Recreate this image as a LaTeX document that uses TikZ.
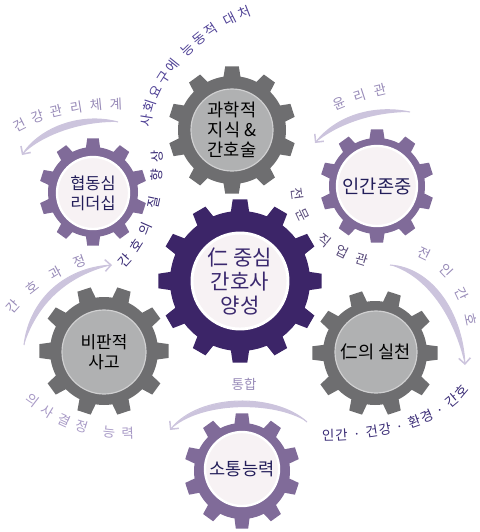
\documentclass[tikz,border=0pt]{standalone}
\usepackage{fontspec}
\setmainfont{Noto Sans CJK KR}
\usepackage{tikz}
\usetikzlibrary{arrows.meta,decorations.text}

\definecolor{gearGray}{RGB}{110,110,112}
\definecolor{hubGray}{RGB}{176,177,178}
\definecolor{gearPurple}{RGB}{128,107,153}
\definecolor{hubLight}{RGB}{247,242,244}
\definecolor{gearDark}{RGB}{60,37,104}
\definecolor{inkPurple}{RGB}{58,40,110}
\definecolor{inkNavy}{RGB}{35,30,90}
\definecolor{arrowLav}{RGB}{204,196,221}
\definecolor{labelLav}{RGB}{152,139,184}
\definecolor{labelPale}{RGB}{168,154,198}
\definecolor{labelBlue}{RGB}{80,66,150}
\definecolor{labelDeep}{RGB}{58,44,118}
\definecolor{labelGrey}{RGB}{88,74,122}

\newcommand{\arcfont}{\fontsize{11.5}{13}\selectfont}

\begin{document}
\begin{tikzpicture}[x=0.03cm, y=0.03cm,
pics/gearwheel/.style n args={4}{code={
  \pgfmathsetmacro{\gstep}{360/#1}
  \path[pic actions] ({#4-0.25*\gstep}:#2)
    \foreach \k [evaluate=\k as \c using #4+(\k-1)*\gstep] in {1,...,#1}{
      -- ({\c-0.25*\gstep}:#2) -- ({\c-0.17*\gstep}:#3)
      -- ({\c+0.17*\gstep}:#3) -- ({\c+0.25*\gstep}:#2)
      arc[start angle={\c+0.25*\gstep}, end angle={\c+0.75*\gstep}, radius=#2]
    } -- cycle;
}},
grayhub/.style={circle, fill=hubGray, draw=hubGray!60!white, line width=1pt, inner sep=-6pt, align=center, text=black},
purplehub/.style={circle, fill=hubLight, draw=white, line width=2pt, inner sep=-6pt, align=center, text=inkNavy},
corehub/.style={circle, fill=hubLight, draw=white, line width=2.5pt, inner sep=-6pt, align=center, text=inkPurple},
arrowbody/.style={fill=arrowLav},
arrowline/.style={draw=arrowLav, line width=0.9pt, -{Straight Barb[length=5pt, width=10pt, line width=1.3pt]}},
arclabel/.style 2 args={decorate, decoration={text along path, text align={fit to path}, raise=-4pt, text color=#1, text={|\arcfont|#2}}},
]
\useasboundingbox (0,0) rectangle (480,-532);

%Gears
\pic[fill=gearDark]   at (240,-281) {gearwheel={12}{70}{82}{0}};
\pic[fill=gearGray]   at (232,-130) {gearwheel={10}{54}{64}{90}};
\pic[fill=gearPurple] at (377,-186) {gearwheel={10}{48}{57}{90}};
\pic[fill=gearPurple] at (93,-192)  {gearwheel={10}{45}{54}{90}};
\pic[fill=gearGray]   at (104,-351) {gearwheel={10}{54}{65}{72}};
\pic[fill=gearGray]   at (375,-353) {gearwheel={10}{52}{63}{72}};
\pic[fill=gearPurple] at (242,-471) {gearwheel={10}{48}{58}{90}};

%Hubs
\node[corehub, minimum size=2.88cm, font=\fontsize{18}{20.5}\selectfont] (core) at (240,-281) {仁 중심\\간호사\\양성};
\node[grayhub, minimum size=2.46cm, font=\fontsize{15}{17}\selectfont] (science) at (232,-130) {과학적\\지식 \&\\간호술};
\node[purplehub, minimum size=2.4cm, font=\fontsize{16}{18}\selectfont] (respect) at (377,-186) {인간존중};
\node[purplehub, minimum size=2.16cm, font=\fontsize{14}{17}\selectfont] (teamwork) at (93,-193) {협동심\\리더십};
\node[grayhub, minimum size=2.52cm, font=\fontsize{14.5}{17}\selectfont] (critical) at (104,-352) {비판적\\사고};
\node[grayhub, minimum size=2.46cm, font=\fontsize{15}{17}\selectfont] (practice) at (376,-352) {仁의 실천};
\node[purplehub, minimum size=2.22cm, font=\fontsize{15}{17}\selectfont] (comm) at (242,-469) {소통능력};

%Arrows
\coordinate (healthA) at (118,-122);
\coordinate (healthB) at (22,-155);
\fill[arrowbody] (healthA) .. controls (80,-112) and (40,-128) .. (healthB) .. controls (40,-136) and (80,-121) .. (healthA);
\draw[arrowline] (healthA) .. controls (80,-112) and (40,-128) .. (healthB);

\coordinate (ethicsA) at (410,-112);
\coordinate (ethicsB) at (315,-143);
\fill[arrowbody] (ethicsA) .. controls (370,-104) and (335,-118) .. (ethicsB) .. controls (335,-126) and (370,-112) .. (ethicsA);
\draw[arrowline] (ethicsA) .. controls (370,-104) and (335,-118) .. (ethicsB);

\coordinate (processA) at (24,-345);
\coordinate (processB) at (112,-265);
\fill[arrowbody] (processA) .. controls (30,-298) and (66,-268) .. (processB) .. controls (70,-275) and (38,-301) .. (processA);
\draw[arrowline] (processA) .. controls (30,-298) and (66,-268) .. (processB);

\coordinate (holisticA) at (390,-265);
\coordinate (holisticB) at (465,-365);
\fill[arrowbody] (holisticA) .. controls (432,-268) and (462,-312) .. (holisticB) .. controls (454,-316) and (427,-276) .. (holisticA);
\draw[arrowline] (holisticA) .. controls (432,-268) and (462,-312) .. (holisticB);

\coordinate (mergeA) at (307,-422);
\coordinate (mergeB) at (170,-430);
\fill[arrowbody] (mergeA) .. controls (275,-393) and (200,-393) .. (mergeB) .. controls (200,-401) and (275,-401) .. (mergeA);
\draw[arrowline] (mergeA) .. controls (275,-393) and (200,-393) .. (mergeB);

%Labels
\path[arclabel={labelLav}{건강관리체계}] (14,-128) .. controls (40,-113) and (80,-105) .. (122,-104);
\path[arclabel={labelLav}{윤리관}] (334,-106) .. controls (350,-99) and (368,-93) .. (386,-89);
\path[arclabel={labelLav}{간호과정}] (9,-311) .. controls (28,-288) and (55,-270) .. (86,-260);
\path[arclabel={labelLav}{전인간호}] (418,-252) .. controls (444,-262) and (465,-288) .. (471,-326);
\node[text=labelLav, font=\fontsize{11.5}{13}\selectfont] (merge) at (244,-384) {통합};

\path[arclabel={labelBlue}{사회요구에 능동적 대처}] (146,-127) .. controls (150,-80) and (195,-30) .. (250,-11);
\path[arclabel={labelDeep}{간호의 질 향상}] (121,-265) .. controls (148,-238) and (160,-200) .. (157,-150);
\path[arclabel={labelGrey}{전문 직업관}] (296,-188) .. controls (298,-228) and (330,-252) .. (368,-262);
\path[arclabel={labelDeep}{인간 · 건강 · 환경 · 간호}] (322,-436) .. controls (375,-436) and (440,-424) .. (466,-387);
\path[arclabel={labelPale}{의사결정 능력}] (27,-397) .. controls (55,-420) and (90,-436) .. (134,-433);

\end{tikzpicture}
\end{document}
